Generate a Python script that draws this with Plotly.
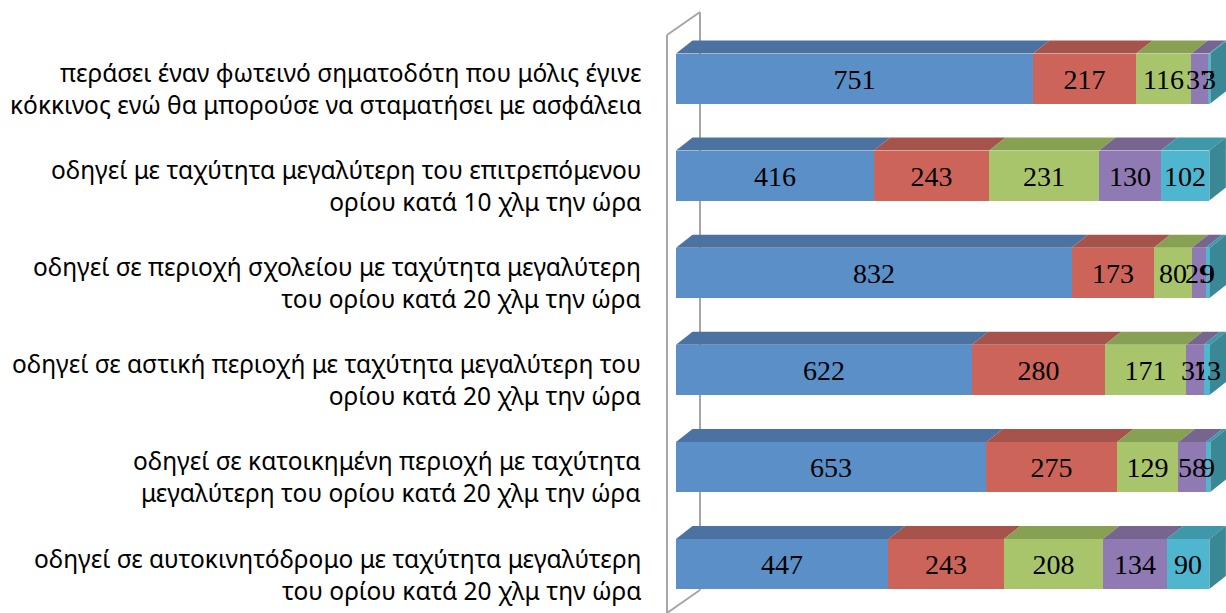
import plotly.graph_objects as go

# ---------------- data ----------------
categories = [
    "περάσει έναν φωτεινό σηματοδότη που μόλις έγινε<br>κόκκινος ενώ θα μπορούσε να σταματήσει με ασφάλεια",
    "οδηγεί με ταχύτητα μεγαλύτερη του επιτρεπόμενου<br>ορίου κατά 10 χλμ την ώρα",
    "οδηγεί σε περιοχή σχολείου με ταχύτητα μεγαλύτερη<br>του ορίου κατά 20 χλμ την ώρα",
    "οδηγεί σε αστική περιοχή με ταχύτητα μεγαλύτερη του<br>ορίου κατά 20 χλμ την ώρα",
    "οδηγεί σε κατοικημένη περιοχή με ταχύτητα<br>μεγαλύτερη του ορίου κατά 20 χλμ την ώρα",
    "οδηγεί σε αυτοκινητόδρομο με ταχύτητα μεγαλύτερη<br>του ορίου κατά 20 χλμ την ώρα",
]
series1 = [751, 416, 832, 622, 653, 447]
series2 = [217, 243, 173, 280, 275, 243]
series3 = [116, 231, 80, 171, 129, 208]
series4 = [37, 130, 29, 37, 58, 134]
series5 = [3, 102, 9, 13, 9, 90]
series_values = [series1, series2, series3, series4, series5]

# ---------------- styling ----------------
front_colors = ["#5B8FC7", "#CC6459", "#A9C56B", "#8F7AB3", "#4FB6CF"]
top_colors = ["#4B72A1", "#A6534C", "#88A052", "#76658F", "#3F97AA"]
side_color = "#3A8796"

W, H = 1226, 613
ML, MR, MT, MB = 676, 0, 0, 0
plot_w = W - ML - MR
plot_h = H - MT - MB
XMAX = 1157.0
px_per_x = plot_w / XMAX
# y axis: category k (0 = bottom) centred at pixel 564, spacing 97.1 px
row_px = 97.1
y_bottom_px = 564.0
YMIN = -(H - y_bottom_px) / row_px
YMAX = y_bottom_px / row_px
bar_w = 50.0 / row_px
dx = 16.5 / px_per_x          # depth offset in data units
dy = 13.0 / row_px

n = len(categories)
ypos = [n - 1 - i for i in range(n)]

fig = go.Figure()
for s, vals in enumerate(series_values):
    fig.add_trace(go.Bar(
        x=vals, y=ypos, orientation="h", width=bar_w,
        marker=dict(color=front_colors[s], line=dict(width=0)),
        text=[str(v) for v in vals], textposition="inside",
        insidetextanchor="middle", textangle=0,
        insidetextfont=dict(family="Liberation Serif", size=28, color="black"),
        constraintext="none", showlegend=False, hoverinfo="x",
    ))

shapes = []
# wall (axis) outline in pixel-derived paper coords
def px(xp):
    return (xp - ML) / plot_w
def py(yp):
    return 1 - (yp - MT) / plot_h
wall_color = "#A6A6A6"
wall = [((667, 640), (667, 35)), ((667, 35), (700, 12)), ((700, 12), (700, 590)),
        ((700, 590), (667, 613))]
for (a, b) in wall:
    shapes.append(dict(type="line", xref="paper", yref="paper",
                       x0=px(a[0]), y0=py(a[1]), x1=px(b[0]), y1=py(b[1]),
                       line=dict(color=wall_color, width=2), layer="below"))

# 3D top faces and side face, from the data
for i in range(n):
    y_top = ypos[i] + bar_w / 2
    y_bot = ypos[i] - bar_w / 2
    start = 0
    for s, vals in enumerate(series_values):
        x0, x1 = start, start + vals[i]
        path = (f"M {x0},{y_top} L {x0+dx},{y_top+dy} L {x1+dx},{y_top+dy} "
                f"L {x1},{y_top} Z")
        shapes.append(dict(type="path", xref="x", yref="y", path=path,
                           fillcolor=top_colors[s], line=dict(width=0), layer="below"))
        start = x1
    path = (f"M {start},{y_bot} L {start},{y_top} L {start+dx},{y_top+dy} "
            f"L {start+dx},{y_bot+dy} Z")
    shapes.append(dict(type="path", xref="x", yref="y", path=path,
                       fillcolor=side_color, line=dict(width=0), layer="below"))

annotations = []
for i, c in enumerate(categories):
    annotations.append(dict(
        text=c, xref="paper", yref="y", x=px(643), y=ypos[i], yshift=-10,
        xanchor="right", yanchor="middle", align="right", showarrow=False,
        font=dict(family="Noto Sans", size=24.5, color="black"),
    ))

fig.update_layout(
    width=W, height=H, barmode="stack", bargap=0,
    margin=dict(l=ML, r=MR, t=MT, b=MB, pad=0),
    paper_bgcolor="white", plot_bgcolor="white",
    xaxis=dict(range=[0, XMAX], visible=False, fixedrange=True),
    yaxis=dict(range=[YMIN, YMAX], visible=False, fixedrange=True),
    uniformtext=dict(mode="show", minsize=28),
    shapes=shapes, annotations=annotations,
)

fig.write_html("out.html", config={"displayModeBar": False},
               post_script="document.body.style.margin='0px';document.body.style.overflow='hidden';")
